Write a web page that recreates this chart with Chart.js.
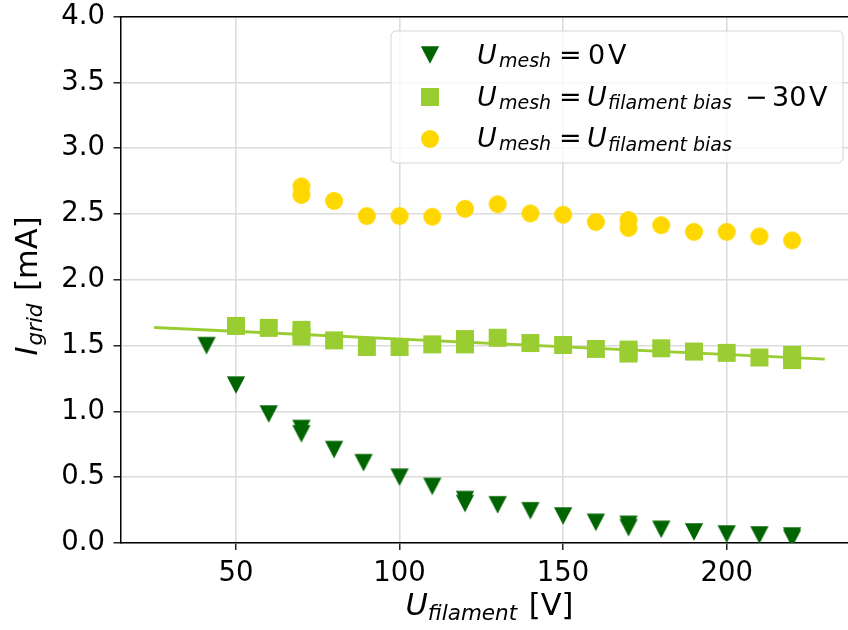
<!DOCTYPE html>
<html><head><meta charset="utf-8">
<script src="https://cdn.jsdelivr.net/npm/chart.js@4"></script>
<style>html,body{margin:0;padding:0;overflow:hidden;background:#fff}#wrap{width:870px;height:630px}</style>
</head><body><div id="wrap"><canvas id="c" width="870" height="630"></canvas></div>
<script>
// ---- data ----
const meshZeroX = [41, 50, 60, 70, 70, 80, 89, 100, 110, 120, 120, 130, 140, 150, 160, 170, 170, 180, 190, 200, 210, 220, 220];
const meshZeroY = [1.50, 1.20, 0.98, 0.87, 0.83, 0.71, 0.61, 0.50, 0.43, 0.33, 0.30, 0.29, 0.245, 0.205, 0.157, 0.142, 0.116, 0.104, 0.084, 0.068, 0.061, 0.053, 0.035];
const biasMinus30X = [50, 60, 70, 70, 80, 90, 100, 110, 120, 120, 130, 140, 150, 160, 170, 170, 180, 190, 200, 210, 220, 220];
const biasMinus30Y = [1.65, 1.635, 1.62, 1.57, 1.54, 1.49, 1.49, 1.51, 1.55, 1.51, 1.56, 1.52, 1.505, 1.475, 1.47, 1.44, 1.48, 1.455, 1.445, 1.41, 1.43, 1.39];
const biasX = [70, 70, 80, 90, 100, 110, 120, 130, 140, 150, 160, 170, 170, 180, 190, 200, 210, 220];
const biasY = [2.71, 2.645, 2.60, 2.485, 2.485, 2.48, 2.54, 2.575, 2.505, 2.495, 2.44, 2.455, 2.395, 2.415, 2.365, 2.365, 2.33, 2.30];
const fitX = [25, 230];
const fitY = [1.638, 1.397];
const xTickValues = [50, 100, 150, 200];
const yTickValues = [0, 0.5, 1.0, 1.5, 2.0, 2.5, 3.0, 3.5, 4.0];
const seriesLabels = ['U_mesh = 0 V', 'U_mesh = U_filament bias − 30 V', 'U_mesh = U_filament bias'];

// ---- styles ----
const FONT = '"DejaVu Sans"';
const C_TRI = '#006400', C_SQ = '#9acd32', C_CIR = '#ffd700';
function makeMarker(kind, color) {
  const c = document.createElement('canvas'); c.width = 20; c.height = 20;
  const g = c.getContext('2d'); g.fillStyle = color; g.beginPath();
  if (kind === 'tri') { g.moveTo(0.85, 1.15); g.lineTo(19.15, 1.15); g.lineTo(10, 18.85); g.closePath(); }
  else if (kind === 'sq') { g.rect(1, 1, 18, 18); }
  else { g.arc(10, 10, 9, 0, Math.PI * 2); }
  g.fill(); return c;
}
const mTri = makeMarker('tri', C_TRI), mSq = makeMarker('sq', C_SQ), mCir = makeMarker('cir', C_CIR);
const pts = (xs, ys) => xs.map((x, i) => ({x: x, y: ys[i]}));

function drawRich(ctx, segs, x, y) {
  let cx = x;
  for (const s of segs) {
    ctx.font = (s.it ? 'italic ' : '') + s.size + 'px ' + FONT;
    if (s.x !== undefined) cx = x + s.x;
    ctx.fillText(s.t, cx, y + (s.dy || 0));
    cx += ctx.measureText(s.t).width + (s.gap || 0);
  }
  return cx - x;
}
function richWidth(ctx, segs) {
  let w = 0;
  for (const s of segs) { ctx.font = (s.it ? 'italic ' : '') + s.size + 'px ' + FONT; w += ctx.measureText(s.t).width + (s.gap || 0); }
  return w;
}

const legendRows = [
  [{t:'U',it:1,size:27,x:0},{t:'mesh',it:1,size:19,x:22,dy:3},{t:'=',size:27,x:82},{t:'0',size:27,x:111},{t:'V',size:27,x:131}],
  [{t:'U',it:1,size:27,x:0},{t:'mesh',it:1,size:19,x:22,dy:3},{t:'=',size:27,x:82},{t:'U',it:1,size:27,x:110},{t:'filament bias',it:1,size:19,x:131,dy:3.5},{t:'\u2212',size:27,x:268},{t:'30',size:27,x:295},{t:'V',size:27,x:332}],
  [{t:'U',it:1,size:27,x:0},{t:'mesh',it:1,size:19,x:22,dy:3},{t:'=',size:27,x:82},{t:'U',it:1,size:27,x:110},{t:'filament bias',it:1,size:19,x:131,dy:3.5}]
];
const xTitle = [{t:'U',it:1,size:30.5},{t:'filament',it:1,size:21.5,dy:4.5,gap:2},{t:' [V]',size:30.5}];
const yTitle = [{t:'I',it:1,size:30.5,gap:1},{t:'grid',it:1,size:21.5,dy:4.5,gap:3},{t:' [mA]',size:30.5}];

const decor = {
  id: 'decor',
  afterDraw(chart) {
    const ctx = chart.ctx, a = chart.chartArea;
    ctx.save();
    // top & right spines
    ctx.strokeStyle = '#000'; ctx.lineWidth = 1.5;
    ctx.beginPath(); ctx.moveTo(a.left - 0.75, a.top); ctx.lineTo(a.right, a.top); ctx.lineTo(a.right, a.bottom); ctx.stroke();
    // legend
    const lx = 391, ly = 31, lw = 452, lh = 132, r = 5;
    ctx.beginPath();
    ctx.moveTo(lx + r, ly); ctx.arcTo(lx + lw, ly, lx + lw, ly + lh, r); ctx.arcTo(lx + lw, ly + lh, lx, ly + lh, r);
    ctx.arcTo(lx, ly + lh, lx, ly, r); ctx.arcTo(lx, ly, lx + lw, ly, r); ctx.closePath();
    ctx.fillStyle = 'rgba(255,255,255,0.8)'; ctx.fill();
    ctx.strokeStyle = 'rgba(204,204,204,0.8)'; ctx.lineWidth = 1; ctx.stroke();
    const markers = [mTri, mSq, mCir];
    const rowY = [55, 97, 139], baseY = [64, 105.5, 147];
    ctx.fillStyle = '#000'; ctx.textBaseline = 'alphabetic'; ctx.textAlign = 'left';
    for (let i = 0; i < 3; i++) {
      ctx.drawImage(markers[i], 430 - 10, rowY[i] - 10);
      drawRich(ctx, legendRows[i], 477, baseY[i]);
    }
    // x title
    const xs = chart.scales.x;
    const cxm = (xs.left + xs.right) / 2;
    const xw = richWidth(ctx, xTitle);
    drawRich(ctx, xTitle, cxm - xw / 2, 615);
    // y title
    ctx.translate(37, 286); ctx.rotate(-Math.PI / 2);
    const yw = richWidth(ctx, yTitle);
    drawRich(ctx, yTitle, -yw / 2, 0);
    ctx.restore();
  }
};

const zeroPad = s => { s.paddingTop = 0; s.paddingBottom = 0; s.paddingLeft = 0; s.paddingRight = 0; };

new Chart(document.getElementById('c'), {
  type: 'scatter',
  data: {
    datasets: [
      {type: 'line', label: 'fit', data: pts(fitX, fitY), borderColor: C_SQ, borderWidth: 2.8, pointRadius: 0, showLine: true, fill: false, order: 5},
      {label: seriesLabels[0], data: pts(meshZeroX, meshZeroY), pointStyle: mTri, pointRadius: 10, order: 3},
      {label: seriesLabels[1], data: pts(biasMinus30X, biasMinus30Y), pointStyle: mSq, pointRadius: 10, order: 2},
      {label: seriesLabels[2], data: pts(biasX, biasY), pointStyle: mCir, pointRadius: 10, order: 1}
    ]
  },
  options: {
    responsive: false, animation: false, devicePixelRatio: 1, events: [],
    layout: {padding: {top: 16.7, right: 11.5, left: 0, bottom: 0}},
    plugins: {legend: {display: false}, tooltip: {enabled: false}},
    scales: {
      x: {
        type: 'linear', min: 14.7, max: 240.3,
        afterBuildTicks: s => { s.ticks = xTickValues.map(v => ({value: v})); },
        afterFit: s => { s.height = 87; zeroPad(s); },
        grid: {color: '#dcdcdc', lineWidth: 1.6, tickColor: '#000', tickWidth: 1.3, tickLength: 7},
        border: {color: '#000', width: 1.5},
        ticks: {color: '#000', font: {family: 'DejaVu Sans', size: 27.5}, padding: 7.5, maxRotation: 0, callback: v => String(v)}
      },
      y: {
        type: 'linear', min: 0, max: 4,
        afterBuildTicks: s => { s.ticks = yTickValues.map(v => ({value: v})); },
        afterFit: s => { s.width = 120.5; zeroPad(s); },
        grid: {color: '#dcdcdc', lineWidth: 1.6, tickColor: '#000', tickWidth: 1.3, tickLength: 7},
        border: {color: '#000', width: 1.5},
        ticks: {color: '#000', font: {family: 'DejaVu Sans', size: 27.5}, padding: 8.5, callback: v => v.toFixed(1)}
      }
    }
  },
  plugins: [decor]
});
</script>
</body></html>
